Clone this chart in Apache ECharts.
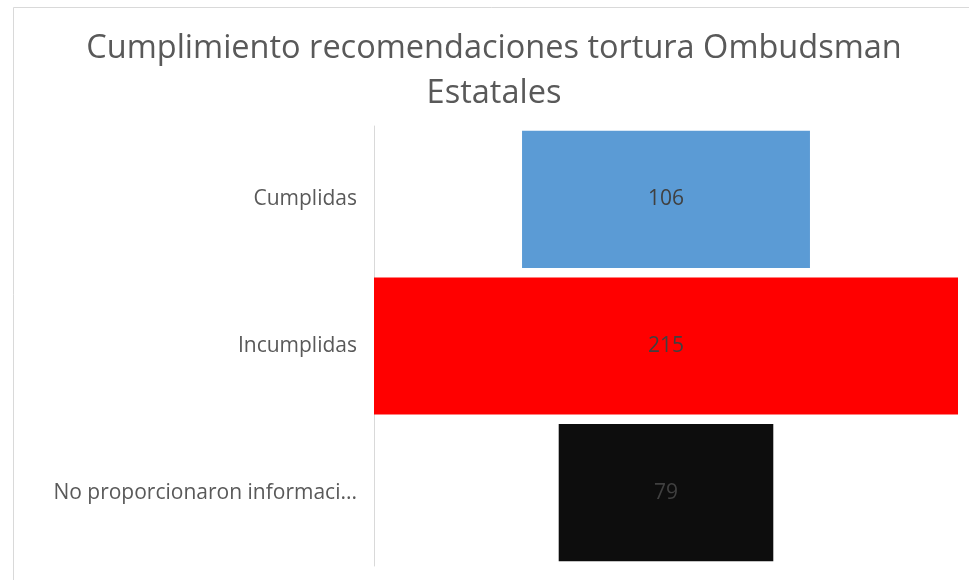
<!DOCTYPE html>
<html>
<head>
<meta charset="utf-8">
<script src="https://cdn.jsdelivr.net/npm/echarts@6/dist/echarts.min.js"></script>
<style>
    html, body { margin: 0; padding: 0; background: #fff; }
    #main { width: 969px; height: 580px; }
</style>
</head>
<body>
<div id="main"></div>
<script>
'use strict';

var titleText = 'Cumplimiento recomendaciones tortura Ombudsman\nEstatales';
var categories = ['Cumplidas', 'Incumplidas', 'No proporcionaron informaci...'];
var values = [106, 215, 79];
var barColors = ['#5b9bd5', '#ff0000', '#0d0d0d'];

var maxVal = Math.max.apply(null, values);
// invisible spacer so each bar sits centred like an Excel funnel
var spacer = values.map(function (v) { return (maxVal - v) / 2; });

var myChart = echarts.init(document.getElementById('main'));

var option = {
    backgroundColor: '#fff',
    animation: false,
    textStyle: {
        fontFamily: 'Open Sans'
    },
    title: {
        text: titleText,
        left: 489,
        textAlign: 'center',
        top: 21,
        textStyle: {
            color: '#595959',
            fontSize: 32.5,
            fontWeight: 'normal',
            fontFamily: 'Open Sans',
            lineHeight: 45
        }
    },
    graphic: [{
        type: 'rect',
        shape: { x: 13.5, y: 7.5, width: 1000, height: 700 },
        style: { fill: 'none', stroke: '#d9d9d9', lineWidth: 1 },
        silent: true
    }],
    grid: {
        left: 374,
        right: 11,
        top: 126,
        bottom: 14
    },
    xAxis: {
        type: 'value',
        min: 0,
        max: maxVal,
        show: false
    },
    yAxis: {
        type: 'category',
        data: categories,
        inverse: true,
        axisLine: { show: true, lineStyle: { color: '#d9d9d9', width: 1 } },
        axisTick: { show: false },
        axisLabel: {
            color: '#595959',
            fontSize: 21,
            margin: 17,
            padding: [5, 0, 0, 0],
            fontFamily: 'Open Sans'
        }
    },
    series: [
        {
            type: 'bar',
            stack: 'funnel',
            data: spacer,
            itemStyle: { color: 'transparent' },
            barCategoryGap: '6.5%',
            silent: true
        },
        {
            type: 'bar',
            stack: 'funnel',
            data: values.map(function (v, i) {
                return { value: v, itemStyle: { color: barColors[i] } };
            }),
            barCategoryGap: '6.5%',
            label: {
                show: true,
                position: 'inside',
                color: '#404040',
                fontSize: 21,
                padding: [5, 0, 0, 0],
                fontFamily: 'Open Sans'
            }
        }
    ]
};

myChart.setOption(option);
</script>
</body>
</html>
